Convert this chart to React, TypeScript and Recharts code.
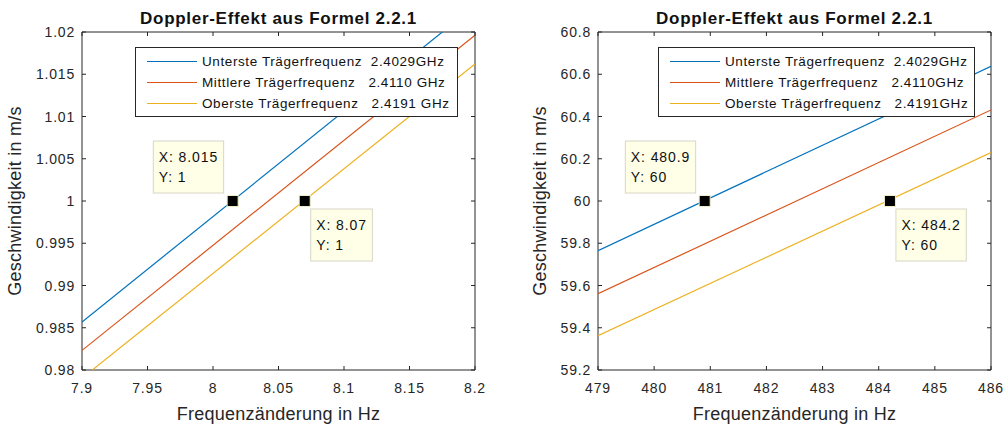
import React from 'react';
import { ComposedChart, Line, Scatter, XAxis, YAxis, ReferenceArea, Legend, Label } from 'recharts';

const FONT = '"Liberation Sans", Arial, Helvetica, sans-serif';
const AXIS = '#262626';
const COLORS = ['#0072BD', '#D95319', '#EDB120'];

const TITLE = 'Doppler-Effekt aus Formel 2.2.1';
const XLABEL = 'Frequenzänderung in Hz';
const YLABEL = 'Geschwindigkeit in m/s';

// ---- left panel data ----
const leftFreq = [7.9, 8.2];
const leftUnterste = [0.98568, 1.02311];
const leftMittlere = [0.98232, 1.01962];
const leftOberste = [0.97903, 1.01621];
const leftXTicks = [7.9, 7.95, 8, 8.05, 8.1, 8.15, 8.2];
const leftYTicks = [0.98, 0.985, 0.99, 0.995, 1, 1.005, 1.01, 1.015, 1.02];
const leftTipX = [8.015, 8.07];
const leftTipY = [1, 1];
const leftLegend = [
  'Unterste Trägerfrequenz  2.4029GHz',
  'Mittlere Trägerfrequenz   2.4110 GHz',
  'Oberste Trägerfrequenz   2.4191 GHz',
];

// ---- right panel data ----
const rightFreq = [479, 486];
const rightUnterste = [59.765, 60.638];
const rightMittlere = [59.561, 60.431];
const rightOberste = [59.362, 60.229];
const rightXTicks = [479, 480, 481, 482, 483, 484, 485, 486];
const rightYTicks = [59.2, 59.4, 59.6, 59.8, 60, 60.2, 60.4, 60.6, 60.8];
const rightTipX = [480.9, 484.2];
const rightTipY = [60, 60];
const rightLegend = [
  'Unterste Trägerfrequenz  2.4029GHz',
  'Mittlere Trägerfrequenz   2.4110GHz',
  'Oberste Trägerfrequenz   2.4191GHz',
];

// ---- layout / style ----
const H = 425;
const PLOT_TOP = 32;
const PLOT_W = 393;
const PLOT_H = 338;
const X_AXIS_H = H - PLOT_TOP - PLOT_H;
const TICK_LEN = 4;
const LINE_W = 1.2;
const TIP_PLACEMENT = ['upperLeft', 'lowerRight'];

const charW: Record<string, number> = { X: 0.667, Y: 0.667, ':': 0.278, ' ': 0.278, '.': 0.278 };
const estWidth = (s: string, fs: number, ls: number) =>
  s.split('').reduce((a, c) => a + (charW[c] ?? 0.556) * fs + ls, 0);

const TipShape = (props: any) => {
  const { cx, cy, payload } = props;
  if (cx == null || cy == null) return null;
  const l1 = `X: ${payload.x}`;
  const l2 = `Y: ${payload.y}`;
  const fs = 14;
  const ls = 0.9;
  const w = Math.max(estWidth(l1, fs, ls), estWidth(l2, fs, ls)) + 11;
  const h = 52;
  const place = TIP_PLACEMENT[payload.idx];
  const bx = place === 'upperLeft' ? cx - 9 - w : cx + 6;
  const by = place === 'upperLeft' ? cy - 8 - h : cy + 8;
  return (
    <g>
      <rect x={bx} y={by} width={w} height={h} fill="#FFFFE8" stroke="#D6D6C8" strokeWidth={1} />
      <text x={bx + 5.5} y={by + 21} fontFamily={FONT} fontSize={fs} letterSpacing={ls} fill="#111">{l1}</text>
      <text x={bx + 5.5} y={by + 40.7} fontFamily={FONT} fontSize={fs} letterSpacing={ls} fill="#111">{l2}</text>
      <rect x={cx - 5.5} y={cy - 5.5} width={11} height={11} fill="#000" stroke="#EEEEC8" strokeWidth={1} />
    </g>
  );
};

const XTick = (props: any) => {
  const { x, y, payload } = props;
  return (
    <g>
      <line x1={x} x2={x} y1={y} y2={y - TICK_LEN} stroke={AXIS} strokeWidth={1} />
      <line x1={x} x2={x} y1={y - PLOT_H} y2={y - PLOT_H + TICK_LEN} stroke={AXIS} strokeWidth={1} />
      <text x={x} y={y + 22.5} textAnchor="middle" fontFamily={FONT} fontSize={14} letterSpacing={0.8} fill={AXIS}>
        {String(payload.value)}
      </text>
    </g>
  );
};

const YTick = (props: any) => {
  const { x, y, payload } = props;
  return (
    <g>
      <line x1={x} x2={x + TICK_LEN} y1={y} y2={y} stroke={AXIS} strokeWidth={1} />
      <line x1={x + PLOT_W} x2={x + PLOT_W - TICK_LEN} y1={y} y2={y} stroke={AXIS} strokeWidth={1} />
      <text x={x - 7} y={y + 5} textAnchor="end" fontFamily={FONT} fontSize={14} letterSpacing={0.8} fill={AXIS}>
        {String(payload.value)}
      </text>
    </g>
  );
};

type PanelProps = {
  width: number;
  plotLeft: number;
  freq: number[];
  values: number[][];
  xTicks: number[];
  yTicks: number[];
  tipX: number[];
  tipY: number[];
  legend: string[];
  legendBox: { left: number; top: number; width: number };
  yLabelBaseline: number;
};

const Panel = (p: PanelProps) => {
  const series = p.values.map((vals, i) => ({
    name: p.legend[i],
    color: COLORS[i],
    data: p.freq.map((f, j) => ({ x: f, y: vals[j] })),
  }));
  const tips = p.tipX.map((x, i) => ({ x, y: p.tipY[i], idx: i }));
  const xDom: [number, number] = [p.xTicks[0], p.xTicks[p.xTicks.length - 1]];
  const yDom: [number, number] = [p.yTicks[0], p.yTicks[p.yTicks.length - 1]];
  const marginRight = p.width - p.plotLeft - PLOT_W;

  const renderLegend = (lp: any) => {
    const items = (lp.payload || [])
      .filter((e: any) => e.type !== 'none' && p.legend.includes(e.value))
      .slice()
      .sort((a: any, b: any) => p.legend.indexOf(a.value) - p.legend.indexOf(b.value));
    return (
      <div
        style={{
          width: p.legendBox.width,
          height: 70,
          boxSizing: 'border-box',
          border: `1px solid ${AXIS}`,
          background: '#fff',
          paddingTop: 2.5,
          paddingLeft: 11,
          fontFamily: FONT,
          fontSize: 13.5,
          letterSpacing: 0.6,
          color: '#111',
        }}
      >
        {items.map((e: any, i: number) => (
          <div key={i} style={{ display: 'flex', alignItems: 'center', height: 21 }}>
            <svg width={50} height={3} style={{ marginRight: 5, flex: 'none' }}>
              <line x1={0} x2={50} y1={1.5} y2={1.5} stroke={e.color} strokeWidth={LINE_W} />
            </svg>
            <span style={{ whiteSpace: 'pre' }}>{e.value}</span>
          </div>
        ))}
      </div>
    );
  };

  return (
    <div style={{ position: 'relative', width: p.width, height: H }}>
      <div
        style={{
          position: 'absolute',
          left: p.plotLeft,
          width: PLOT_W,
          top: 9.6,
          textAlign: 'center',
          fontFamily: FONT,
          fontWeight: 'bold',
          fontSize: 17,
          lineHeight: '17px',
          letterSpacing: 0.7,
          color: '#111',
          zIndex: 2,
          whiteSpace: 'pre',
        }}
      >
        {TITLE}
      </div>
      <ComposedChart
        width={p.width}
        height={H}
        margin={{ top: PLOT_TOP, right: marginRight, bottom: 0, left: 0 }}
      >
        <XAxis
          dataKey="x"
          type="number"
          domain={xDom}
          ticks={p.xTicks}
          interval={0}
          allowDataOverflow
          height={X_AXIS_H}
          tickSize={0}
          tickMargin={0}
          axisLine={false}
          tickLine={false}
          tick={<XTick />}
        >
          <Label
            content={(lp: any) => {
              const vb = lp.viewBox;
              return (
                <text
                  x={vb.x + vb.width / 2}
                  y={vb.y + 49.5}
                  textAnchor="middle"
                  fontFamily={FONT}
                  fontSize={18}
                  letterSpacing={0.25}
                  fill={AXIS}
                >
                  {XLABEL}
                </text>
              );
            }}
          />
        </XAxis>
        <YAxis
          dataKey="y"
          type="number"
          domain={yDom}
          ticks={p.yTicks}
          interval={0}
          allowDataOverflow
          width={p.plotLeft}
          tickSize={0}
          tickMargin={0}
          axisLine={false}
          tickLine={false}
          tick={<YTick />}
        >
          <Label
            content={(lp: any) => {
              const vb = lp.viewBox;
              const cx = p.yLabelBaseline;
              const cy = vb.y + vb.height / 2;
              return (
                <text
                  x={cx}
                  y={cy}
                  transform={`rotate(-90, ${cx}, ${cy})`}
                  textAnchor="middle"
                  fontFamily={FONT}
                  fontSize={18}
                  letterSpacing={0.25}
                  fill={AXIS}
                >
                  {YLABEL}
                </text>
              );
            }}
          />
        </YAxis>
        <ReferenceArea
          x1={xDom[0]}
          x2={xDom[1]}
          y1={yDom[0]}
          y2={yDom[1]}
          fill="none"
          fillOpacity={0}
          stroke={AXIS}
          strokeWidth={1}
          ifOverflow="visible"
        />
        {series.map((s) => (
          <Line
            key={s.name}
            data={s.data}
            dataKey="y"
            name={s.name}
            type="linear"
            stroke={s.color}
            strokeWidth={LINE_W}
            dot={false}
            activeDot={false}
            isAnimationActive={false}
          />
        ))}
        <Scatter
          data={tips}
          dataKey="y"
          legendType="none"
          shape={<TipShape />}
          isAnimationActive={false}
        />
        <Legend
          layout="vertical"
          align="center"
          verticalAlign="middle"
          itemSorter={(item: any) => p.legend.indexOf(item.value)}
          wrapperStyle={{ left: p.legendBox.left, top: p.legendBox.top, width: p.legendBox.width, height: 70 }}
          content={renderLegend}
        />
      </ComposedChart>
    </div>
  );
};

export default function App() {
  return (
    <div
      style={{
        position: 'absolute',
        left: 0,
        top: 0,
        width: 1005,
        height: H,
        background: '#fff',
        display: 'flex',
      }}
    >
      <Panel
        width={500}
        plotLeft={82}
        freq={leftFreq}
        values={[leftUnterste, leftMittlere, leftOberste]}
        xTicks={leftXTicks}
        yTicks={leftYTicks}
        tipX={leftTipX}
        tipY={leftTipY}
        legend={leftLegend}
        legendBox={{ left: 135, top: 47, width: 323 }}
        yLabelBaseline={21}
      />
      <Panel
        width={505}
        plotLeft={98}
        freq={rightFreq}
        values={[rightUnterste, rightMittlere, rightOberste]}
        xTicks={rightXTicks}
        yTicks={rightYTicks}
        tipX={rightTipX}
        tipY={rightTipY}
        legend={rightLegend}
        legendBox={{ left: 158, top: 47, width: 317 }}
        yLabelBaseline={46}
      />
    </div>
  );
}
